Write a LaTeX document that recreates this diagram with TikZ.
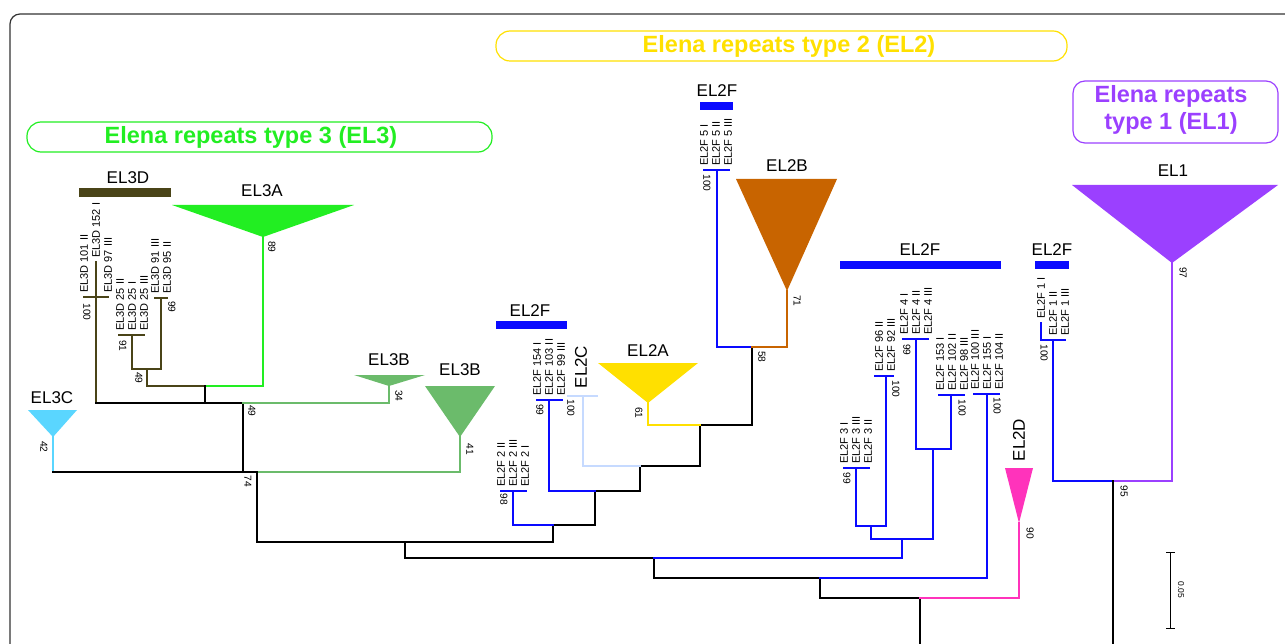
\documentclass[tikz,border=0pt]{standalone}
\usepackage{fontspec}
\setmainfont{Liberation Sans}
\usetikzlibrary{positioning}
\definecolor{elenalime}{HTML}{22EE22}
\definecolor{elenaleaf}{HTML}{6BBB6B}
\definecolor{elenasky}{HTML}{5AD6FF}
\definecolor{elenaolive}{HTML}{4A4418}
\definecolor{elenagold}{HTML}{FFE000}
\definecolor{elenabrown}{HTML}{C86400}
\definecolor{elenapale}{HTML}{C6DAFF}
\definecolor{elenablue}{HTML}{0A0AFF}
\definecolor{elenapink}{HTML}{FF33BB}
\definecolor{elenaviolet}{HTML}{9B40FF}
\definecolor{elenaframe}{HTML}{333333}

\begin{document}
\begin{tikzpicture}[x=1pt, y=-1pt,
    br/.style={line width=1.7pt, line cap=rect},
    leaf/.style={rotate=90, anchor=west, inner sep=0pt, font=\fontsize{11}{11}\selectfont},
    boot/.style={rotate=-90, inner sep=0pt, font=\fontsize{10.2}{10.2}\selectfont},
    clade/.style={inner sep=0pt, font=\fontsize{17}{17}\selectfont},
    header/.style={inner sep=0pt, align=center, font=\fontsize{23.5}{27.5}\selectfont\bfseries}]
    \useasboundingbox (0,0) rectangle (1285,644);
    \clip (0,0) rectangle (1285,644);

    % Frame
    \draw[elenaframe, line width=1.2pt, rounded corners=10pt] (10,14) rectangle (1320,680);

    % Headers
    \draw[elenalime, line width=1.2pt, rounded corners=14pt] (27,122) rectangle (492,152);
    \node[header, elenalime] (headthree) at (251,137) {Elena repeats type 3 (EL3)};
    \draw[elenagold, line width=1.2pt, rounded corners=14pt] (496,31) rectangle (1067,61);
    \node[header, elenagold] (headtwo) at (789,46) {Elena repeats type 2 (EL2)};
    \draw[elenaviolet, line width=1.2pt, rounded corners=12pt] (1073,81) rectangle (1278,143);
    \node[header, elenaviolet] (headone) at (1171,110) {Elena repeats\\type 1 (EL1)};

    % Collapsed clades
    \fill[elenalime] (172,205) -- (354,205) -- (263,237) -- cycle;
    \fill[elenaleaf] (354,375) -- (425,375) -- (389,386) -- cycle;
    \fill[elenaleaf] (425,386) -- (495,386) -- (460,437) -- cycle;
    \fill[elenasky] (28,410) -- (77,410) -- (53,437) -- cycle;
    \fill[elenagold] (598,363) -- (698,363) -- (648,403) -- cycle;
    \fill[elenabrown] (736,179) -- (837,179) -- (787,291) -- cycle;
    \fill[elenapink] (1005,468) -- (1033,468) -- (1019,523) -- cycle;
    \fill[elenaviolet] (1072,185) -- (1278,185) -- (1172,263) -- cycle;

    % Group bars
    \fill[elenaolive] (79,188) rectangle (171,197);
    \fill[elenablue] (496,321) rectangle (567,329);
    \fill[elenablue] (700,102) rectangle (733,110);
    \fill[elenablue] (840,261) rectangle (1001,269);
    \fill[elenablue] (1035,261) rectangle (1069,269);

    % Clade names
    \node[clade] (nmd) at (128,178) {EL3D};
    \node[clade] (nma) at (262,191) {EL3A};
    \node[clade] (nmbs) at (389,360) {EL3B};
    \node[clade] (nmbl) at (460,370) {EL3B};
    \node[clade] (nmc) at (52,398) {EL3C};
    \node[clade] (nmfa) at (530,311) {EL2F};
    \node[clade] (nmfb) at (717,91) {EL2F};
    \node[clade] (nmfc) at (920,250) {EL2F};
    \node[clade] (nmfd) at (1052,250) {EL2F};
    \node[clade, rotate=90] (nmtc) at (581,367) {EL2C};
    \node[clade] (nmta) at (648,351) {EL2A};
    \node[clade] (nmtb) at (787,166) {EL2B};
    \node[clade, rotate=90] (nmtd) at (1019,440) {EL2D};
    \node[clade] (nmone) at (1173,171) {EL1};

    % EL3 branches
    \draw[br, elenaolive] (84,297) -- (108,297);
    \draw[br, elenaolive] (96,262) -- (96,403);
    \draw[br, elenaolive] (119,335) -- (144,335);
    \draw[br, elenaolive] (155,298) -- (167,298);
    \draw[br, elenaolive] (132,335) -- (132,369) -- (161,369) -- (161,298);
    \draw[br, elenaolive] (147,369) -- (147,386) -- (205,386);
    \draw[br, elenalime] (205,386) -- (263,386) -- (263,237);
    \draw[br] (205,386) -- (205,403);
    \draw[br] (96,403) -- (243,403) -- (243,472);
    \draw[br, elenaleaf] (243,403) -- (389,403) -- (389,386);
    \draw[br, elenasky] (53,437) -- (53,472);
    \draw[br] (53,472) -- (257,472);
    \draw[br, elenaleaf] (257,472) -- (460,472) -- (460,437);

    % Backbone
    \draw[br] (257,472) -- (257,542) -- (553,542);
    \draw[br] (405,542) -- (405,558) -- (654,558);
    \draw[br] (654,558) -- (654,578) -- (820,578);
    \draw[br] (820,578) -- (820,598) -- (920,598);
    \draw[br] (920,598) -- (920,660);

    % EL2 branches
    \draw[br] (553,542) -- (553,525) -- (595,525) -- (595,491) -- (640,491)
        -- (640,466) -- (700,466) -- (700,425) -- (752,425) -- (752,347);
    \draw[br, elenablue] (501,491) -- (526,491);
    \draw[br, elenablue] (513,491) -- (513,525) -- (553,525);
    \draw[br, elenablue] (537,400) -- (562,400);
    \draw[br, elenablue] (549,400) -- (549,491) -- (595,491);
    \draw[br, elenapale] (568,396) -- (597,396);
    \draw[br, elenapale] (583,396) -- (583,466) -- (640,466);
    \draw[br, elenagold] (648,403) -- (648,425) -- (700,425);
    \draw[br, elenablue] (704,170) -- (729,170);
    \draw[br, elenablue] (717,170) -- (717,347) -- (752,347);
    \draw[br, elenabrown] (752,347) -- (787,347) -- (787,291);

    % EL2F clade
    \draw[br, elenablue] (654,558) -- (902,558) -- (902,539);
    \draw[br, elenablue] (871,539) -- (933,539);
    \draw[br, elenablue] (871,539) -- (871,526);
    \draw[br, elenablue] (856,468) -- (856,526) -- (886,526) -- (886,376);
    \draw[br, elenablue] (844,468) -- (869,468);
    \draw[br, elenablue] (875,376) -- (893,376);
    \draw[br, elenablue] (933,539) -- (933,449);
    \draw[br, elenablue] (916,339) -- (916,449) -- (951,449) -- (951,395);
    \draw[br, elenablue] (903,339) -- (928,339);
    \draw[br, elenablue] (939,395) -- (964,395);
    \draw[br, elenablue] (820,578) -- (987,578) -- (987,394);
    \draw[br, elenablue] (974,394) -- (999,394);
    \draw[br, elenapink] (920,598) -- (1019,598) -- (1019,523);

    % EL1 side
    \draw[br, elenablue] (1041,323) -- (1041,340) -- (1065,340);
    \draw[br, elenablue] (1053,340) -- (1053,481) -- (1113,481);
    \draw[br, elenaviolet] (1113,481) -- (1172,481) -- (1172,263);
    \draw[br] (1113,481) -- (1113,660);

    % Leaves
    \node[leaf] (d101) at (84,293) {EL3D 101 II};
    \node[leaf] (d152) at (96,258) {EL3D 152 I};
    \node[leaf] (d97) at (108,293) {EL3D 97 III};
    \foreach \x/\t [count=\i] in {120/EL3D 25 II, 132/EL3D 25 I, 144/EL3D 25 III}
        \node[leaf] (dtf\i) at (\x,331) {\t};
    \foreach \x/\t [count=\i] in {155/EL3D 91 III, 167/EL3D 95 II}
        \node[leaf] (dnn\i) at (\x,294) {\t};
    \foreach \x/\t [count=\i] in {501/EL2F 2 II, 513/EL2F 2 III, 525/EL2F 2 I}
        \node[leaf] (ftwo\i) at (\x,487) {\t};
    \foreach \x/\t [count=\i] in {537/EL2F 154 I, 549/EL2F 103 II, 561/EL2F 99 III}
        \node[leaf] (fofs\i) at (\x,396) {\t};
    \foreach \x/\t [count=\i] in {704/EL2F 5 I, 716/EL2F 5 II, 728/EL2F 5 III}
        \node[leaf] (ffive\i) at (\x,166) {\t};
    \foreach \x/\t [count=\i] in {844/EL2F 3 I, 856/EL2F 3 III, 868/EL2F 3 II}
        \node[leaf] (fthree\i) at (\x,464) {\t};
    \foreach \x/\t [count=\i] in {879/EL2F 96 II, 891/EL2F 92 III}
        \node[leaf] (fnsix\i) at (\x,372) {\t};
    \foreach \x/\t [count=\i] in {904/EL2F 4 I, 916/EL2F 4 II, 928/EL2F 4 III}
        \node[leaf] (ffour\i) at (\x,335) {\t};
    \foreach \x/\t [count=\i] in {940/EL2F 153 I, 952/EL2F 102 II, 964/EL2F 98 III}
        \node[leaf] (ffft\i) at (\x,391) {\t};
    \foreach \x/\t [count=\i] in {975/EL2F 100 III, 987/EL2F 155 I, 999/EL2F 104 II}
        \node[leaf] (fhun\i) at (\x,390) {\t};
    \node[leaf] (fone1) at (1041,319) {EL2F 1 I};
    \node[leaf] (fone2) at (1053,336) {EL2F 1 II};
    \node[leaf] (fone3) at (1065,336) {EL2F 1 III};

    % Bootstrap values
    \node[boot] (bs1) at (87,312) {100};
    \node[boot] (bs2) at (123,346) {91};
    \node[boot] (bs3) at (172,307) {99};
    \node[boot] (bs4) at (139,378) {49};
    \node[boot] (bs5) at (272,247) {89};
    \node[boot] (bs6) at (252,411) {49};
    \node[boot] (bs7) at (399,396) {34};
    \node[boot] (bs8) at (470,449) {41};
    \node[boot] (bs9) at (44,447) {42};
    \node[boot] (bs10) at (248,481) {74};
    \node[boot] (bs11) at (504,499) {98};
    \node[boot] (bs12) at (540,410) {99};
    \node[boot] (bs13) at (571,408) {100};
    \node[boot] (bs14) at (639,413) {61};
    \node[boot] (bs15) at (707,183) {100};
    \node[boot] (bs16) at (797,301) {71};
    \node[boot] (bs17) at (762,357) {58};
    \node[boot] (bs18) at (847,478) {99};
    \node[boot] (bs19) at (896,389) {100};
    \node[boot] (bs20) at (907,350) {99};
    \node[boot] (bs21) at (962,408) {100};
    \node[boot] (bs22) at (997,406) {100};
    \node[boot] (bs23) at (1030,533) {90};
    \node[boot] (bs24) at (1044,353) {100};
    \node[boot] (bs25) at (1124,491) {95};
    \node[boot] (bs26) at (1183,273) {97};

    % Scale bar
    \draw[line width=1pt] (1166,552) -- (1175,552);
    \draw[line width=1pt] (1170,552) -- (1170,628);
    \draw[line width=1pt] (1166,628) -- (1175,628);
    \node[boot, font=\fontsize{8.5}{8.5}\selectfont] (scale) at (1181,590) {0.05};
\end{tikzpicture}
\end{document}
